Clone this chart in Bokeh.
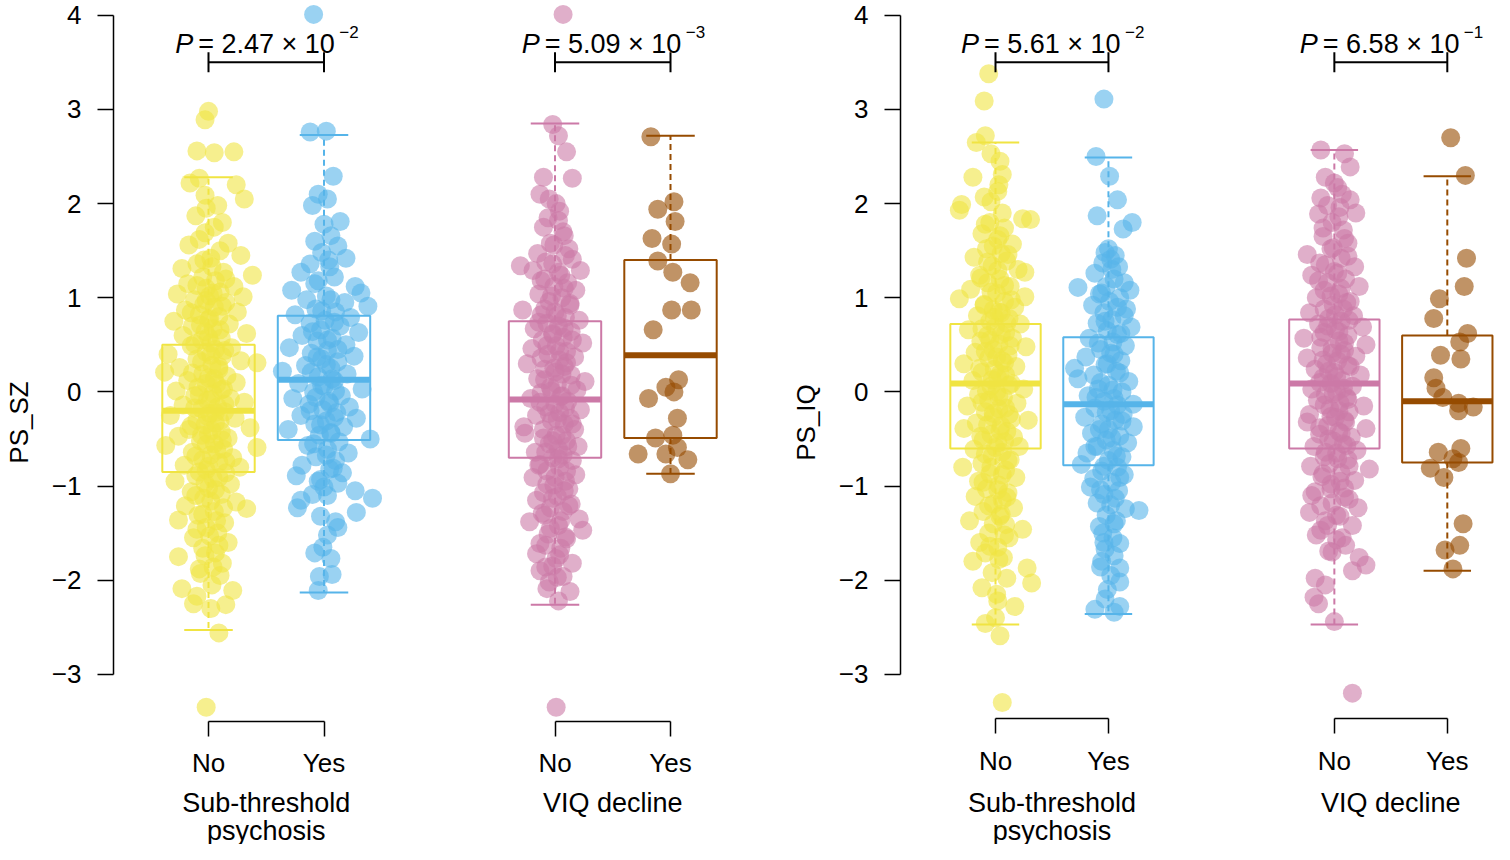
from bokeh.plotting import figure
from bokeh.layouts import row
from bokeh.models import LinearAxis, FixedTicker, Range1d, ColumnDataSource
from bokeh.core.properties import value
from bokeh.embed import file_html
from bokeh.resources import INLINE

FONT = "Liberation Sans"

# ---------------- data ----------------
positions = [1, 2, 4, 5]                       # No / Yes, No / Yes
level_labels = ["No", "Yes"]
group_labels = [["Sub-threshold", "psychosis"], ["VIQ decline"]]
colors = ["#F0E442", "#56B4E9", "#CC79A7", "#964B00"]
y_ticks = [-3, -2, -1, 0, 1, 2, 3, 4]
y_tick_labels = ["\u22123", "\u22122", "\u22121", "0", "1", "2", "3", "4"]

# ---- PS_SZ panel: points as (value, jitter) ----
sz_stp_no = [
    (2.98, 0.00), (2.89, -0.03), (2.56, -0.10), (2.54, 0.05), (2.55, 0.22), (2.27, -0.08), (2.22, -0.16),
    (2.20, 0.24), (2.05, 0.31), (2.09, -0.03), (1.98, 0.08), (1.87, -0.11), (1.80, 0.12), (1.69, -0.03),
    (1.56, -0.17), (1.58, 0.17), (1.45, 0.28), (1.42, 0.02), (1.31, -0.23), (1.36, -0.10), (1.27, 0.13),
    (1.24, 0.38), (1.22, -0.05), (1.18, 0.06), (1.15, -0.18), (1.12, 0.22), (1.10, -0.02), (1.06, 0.10),
    (1.04, -0.27), (1.02, 0.01), (1.01, 0.30), (0.98, -0.12), (0.95, 0.15), (0.93, -0.04), (0.90, 0.05),
    (0.87, -0.20), (0.85, 0.25), (0.82, -0.08), (0.80, 0.09), (0.77, 0.00), (0.75, -0.30), (0.72, 0.18),
    (0.70, -0.14), (0.67, 0.04), (0.64, -0.03), (0.62, 0.33), (0.60, -0.22), (0.57, 0.11), (0.55, -0.06),
    (0.52, 0.02), (0.49, -0.15), (0.47, 0.20), (0.45, 0.06), (0.42, -0.02), (0.40, -0.35), (0.38, 0.12),
    (0.35, -0.10), (0.33, 0.28), (0.31, 0.42), (0.28, 0.03), (0.26, -0.25), (0.24, 0.09), (0.21, -0.38),
    (0.19, -0.05), (0.17, 0.16), (0.15, 0.00), (0.12, -0.18), (0.10, 0.24), (0.08, 0.07), (0.05, -0.09),
    (0.03, 0.13), (0.01, -0.28), (-0.02, 0.04), (-0.04, -0.12), (-0.07, 0.19), (-0.09, -0.01), (-0.11, 0.31),
    (-0.14, -0.22), (-0.16, 0.08), (-0.18, -0.06), (-0.21, 0.14), (-0.23, 0.01), (-0.25, -0.33), (-0.28, 0.23),
    (-0.30, -0.10), (-0.33, 0.06), (-0.35, -0.03), (-0.38, 0.36), (-0.40, -0.17), (-0.42, 0.11), (-0.45, 0.00),
    (-0.47, -0.26), (-0.49, 0.17), (-0.52, -0.07), (-0.55, 0.05), (-0.57, -0.37), (-0.59, 0.42), (-0.61, 0.13),
    (-0.64, -0.14), (-0.67, 0.02), (-0.70, 0.21), (-0.72, -0.05), (-0.75, 0.09), (-0.78, -0.21), (-0.80, 0.27),
    (-0.83, -0.02), (-0.86, 0.15), (-0.89, -0.11), (-0.92, 0.04), (-0.95, -0.29), (-0.98, 0.19), (-1.02, 0.00),
    (-1.06, -0.15), (-1.09, 0.11), (-1.13, -0.04), (-1.17, 0.24), (-1.21, -0.20), (-1.24, 0.33), (-1.27, 0.05),
    (-1.31, -0.09), (-1.36, -0.26), (-1.39, 0.14), (-1.44, -0.02), (-1.50, 0.08), (-1.55, -0.13), (-1.60, 0.17),
    (-1.66, -0.05), (-1.71, 0.06), (-1.75, -0.26), (-1.82, 0.12), (-1.88, -0.08), (-1.93, -0.07), (-1.95, 0.10),
    (-2.05, 0.03), (-2.09, -0.23), (-2.11, 0.21), (-2.17, -0.10), (-2.25, -0.13), (-2.26, 0.15), (-2.30, 0.02),
    (-2.56, 0.09), (-3.35, -0.02),
]
sz_stp_no_core = [
    (1.95, -0.02), (1.75, 0.05), (1.62, -0.08), (1.50, 0.10), (1.40, -0.04), (1.33, 0.03), (1.20, 0.15),
    (1.13, -0.10), (1.05, 0.04), (0.97, -0.02), (0.91, 0.12), (0.84, -0.15), (0.78, 0.01), (0.71, -0.07),
    (0.66, 0.10), (0.58, 0.00), (0.51, -0.12), (0.44, 0.14), (0.39, 0.02), (0.32, -0.06), (0.27, 0.09),
    (0.20, -0.14), (0.14, 0.05), (0.09, -0.02), (0.02, 0.11), (-0.03, -0.08), (-0.08, 0.02), (-0.13, 0.14),
    (-0.17, -0.12), (-0.22, 0.06), (-0.26, -0.01), (-0.31, 0.10), (-0.36, -0.15), (-0.41, 0.03), (-0.46, -0.06),
    (-0.51, 0.12), (-0.56, -0.02), (-0.62, 0.07), (-0.68, -0.11), (-0.74, 0.15), (-0.79, 0.00), (-0.85, -0.08),
    (-0.91, 0.09), (-0.97, -0.03), (-1.04, 0.06), (-1.10, -0.11), (-1.16, 0.02), (-1.23, 0.13), (-1.30, -0.05),
    (-1.37, 0.07), (-1.46, -0.10), (-1.53, 0.01), (-1.63, 0.09), (-1.74, -0.03), (-1.86, 0.04),
]
sz_stp_yes = [
    (4.01, -0.09), (2.76, -0.12), (2.77, 0.02), (2.29, 0.08), (2.10, -0.05), (2.05, 0.03), (1.98, -0.10),
    (1.81, 0.14), (1.78, 0.00), (1.66, 0.06), (1.60, -0.08), (1.55, 0.12), (1.48, -0.02), (1.42, 0.19),
    (1.36, -0.12), (1.33, 0.05), (1.27, -0.20), (1.22, 0.09), (1.18, -0.05), (1.12, 0.27), (1.08, -0.28),
    (1.05, 0.32), (1.02, 0.02), (0.98, -0.15), (0.95, 0.18), (0.91, 0.38), (0.88, -0.07), (0.85, 0.10),
    (0.82, -0.25), (0.79, 0.23), (0.76, 0.01), (0.73, -0.12), (0.70, 0.14), (0.66, -0.03), (0.63, 0.30),
    (0.60, -0.19), (0.57, 0.07), (0.54, -0.06), (0.50, 0.19), (0.47, -0.30), (0.44, 0.03), (0.41, -0.11),
    (0.38, 0.26), (0.35, -0.02), (0.32, 0.12), (0.28, -0.16), (0.25, 0.06), (0.22, -0.36), (0.19, 0.20),
    (0.16, -0.05), (0.12, 0.09), (0.09, -0.22), (0.06, 0.00), (0.03, 0.33), (0.00, -0.09), (-0.04, 0.15),
    (-0.07, -0.27), (-0.10, 0.04), (-0.13, -0.13), (-0.16, 0.22), (-0.19, -0.01), (-0.22, 0.11), (-0.25, -0.20),
    (-0.28, 0.28), (-0.31, 0.02), (-0.34, -0.08), (-0.37, 0.17), (-0.40, -0.31), (-0.43, 0.06), (-0.46, -0.04),
    (-0.50, 0.40), (-0.53, 0.13), (-0.57, -0.14), (-0.61, 0.03), (-0.65, 0.21), (-0.69, -0.07), (-0.73, 0.10),
    (-0.78, -0.19), (-0.82, 0.05), (-0.86, 0.16), (-0.89, -0.24), (-0.93, -0.03), (-0.97, 0.12), (-1.01, 0.00),
    (-1.05, 0.27), (-1.09, -0.10), (-1.13, 0.42), (-1.15, -0.20), (-1.23, -0.23), (-1.28, 0.28), (-1.32, -0.03),
    (-1.38, 0.10), (-1.44, 0.12), (-1.52, 0.03), (-1.65, -0.01), (-1.71, -0.08), (-1.77, 0.06), (-1.94, 0.07),
    (-1.96, -0.04), (-2.11, -0.05),
]
sz_stp_yes_core = [
    (1.40, 0.04), (1.15, -0.08), (0.98, 0.06), (0.86, -0.02), (0.74, 0.09), (0.64, -0.10), (0.55, 0.03),
    (0.45, 0.12), (0.37, -0.06), (0.29, 0.02), (0.21, -0.11), (0.14, 0.07), (0.07, -0.02), (0.01, 0.10),
    (-0.06, -0.07), (-0.12, 0.05), (-0.20, -0.12), (-0.27, 0.09), (-0.35, -0.03), (-0.44, 0.06), (-0.55, -0.09),
    (-0.67, 0.02), (-0.81, 0.08), (-0.95, -0.05), (-1.10, 0.03),
]
sz_viq_no = [
    (4.01, 0.07), (2.84, -0.02), (2.72, 0.03), (2.55, 0.10), (2.27, 0.15), (2.28, -0.10), (2.10, -0.13),
    (2.05, -0.05), (1.92, 0.04), (1.82, 0.03), (1.75, -0.10), (1.66, 0.08), (1.58, -0.04), (1.52, 0.12),
    (1.47, -0.15), (1.41, 0.15), (1.36, -0.02), (1.34, -0.30), (1.29, -0.19), (1.29, 0.22), (1.24, 0.05),
    (1.20, -0.09), (1.16, 0.11), (1.12, -0.01), (1.08, 0.18), (1.04, -0.14), (1.00, 0.06), (0.96, -0.05),
    (0.92, 0.13), (0.87, -0.28), (0.85, 0.00), (0.82, -0.12), (0.79, 0.09), (0.76, 0.21), (0.73, -0.07),
    (0.70, 0.03), (0.67, -0.18), (0.64, 0.14), (0.61, -0.02), (0.58, 0.07), (0.55, -0.11), (0.52, 0.24),
    (0.49, 0.01), (0.46, -0.20), (0.43, 0.10), (0.40, -0.06), (0.37, 0.17), (0.34, 0.04), (0.30, -0.24),
    (0.27, 0.08), (0.24, -0.09), (0.21, 0.00), (0.18, 0.14), (0.14, -0.15), (0.11, 0.26), (0.08, 0.02),
    (0.05, -0.04), (0.02, 0.19), (-0.01, -0.12), (-0.04, 0.06), (-0.07, -0.21), (-0.10, 0.11), (-0.13, 0.00),
    (-0.16, -0.08), (-0.19, 0.22), (-0.22, 0.04), (-0.25, -0.16), (-0.28, 0.13), (-0.31, -0.03), (-0.34, 0.08),
    (-0.37, -0.27), (-0.40, 0.17), (-0.44, -0.26), (-0.46, 0.01), (-0.49, -0.10), (-0.52, 0.10), (-0.55, -0.05),
    (-0.58, 0.20), (-0.61, 0.03), (-0.64, -0.17), (-0.67, 0.07), (-0.70, -0.02), (-0.73, 0.15), (-0.77, -0.13),
    (-0.80, 0.04), (-0.84, -0.07), (-0.88, 0.18), (-0.91, -0.19), (-0.95, 0.09), (-0.99, -0.01), (-1.03, 0.12),
    (-1.07, -0.10), (-1.11, 0.02), (-1.15, -0.16), (-1.19, 0.14), (-1.23, -0.04), (-1.27, 0.07), (-1.31, -0.09),
    (-1.35, 0.21), (-1.38, -0.22), (-1.42, 0.03), (-1.47, 0.24), (-1.51, -0.06), (-1.56, 0.10), (-1.61, -0.13),
    (-1.66, 0.05), (-1.72, -0.16), (-1.77, 0.01), (-1.82, 0.15), (-1.86, -0.08), (-1.90, -0.13), (-1.97, 0.02),
    (-2.02, -0.05), (-2.09, -0.07), (-2.12, 0.13), (-2.22, 0.03), (-3.35, 0.01),
]
sz_viq_no_core = [
    (2.00, 0.01), (1.85, -0.06), (1.70, 0.07), (1.56, -0.01), (1.45, 0.09), (1.38, -0.08), (1.27, 0.03),
    (1.18, -0.12), (1.10, 0.08), (1.02, -0.03), (0.94, 0.13), (0.88, -0.09), (0.81, 0.02), (0.74, -0.14),
    (0.68, 0.08), (0.62, -0.02), (0.55, 0.15), (0.49, -0.07), (0.43, 0.04), (0.36, -0.12), (0.31, 0.10),
    (0.25, -0.01), (0.19, 0.06), (0.13, -0.09), (0.07, 0.14), (0.01, -0.03), (-0.05, 0.05), (-0.11, -0.13),
    (-0.17, 0.09), (-0.23, -0.05), (-0.29, 0.02), (-0.34, 0.15), (-0.40, -0.10), (-0.46, 0.06), (-0.52, -0.02),
    (-0.58, 0.11), (-0.64, -0.08), (-0.71, 0.03), (-0.78, -0.14), (-0.84, 0.10), (-0.91, 0.00), (-0.98, -0.07),
    (-1.05, 0.08), (-1.13, -0.02), (-1.21, 0.12), (-1.29, -0.11), (-1.37, 0.05), (-1.45, -0.04), (-1.54, 0.09),
    (-1.63, -0.08), (-1.73, 0.04), (-1.85, -0.02), (-1.96, 0.07),
]
sz_viq_yes = [
    (2.71, -0.17), (2.02, 0.03), (1.94, -0.11), (1.81, 0.04), (1.63, -0.16), (1.57, 0.01), (1.39, -0.11),
    (1.27, 0.02), (1.16, 0.17), (0.87, 0.01), (0.87, 0.18), (0.66, -0.15), (0.13, 0.07), (0.05, -0.04),
    (0.00, 0.03), (-0.07, -0.19), (-0.28, 0.06), (-0.49, -0.13), (-0.46, 0.02), (-0.59, 0.06), (-0.66, -0.28),
    (-0.66, -0.04), (-0.72, 0.15), (-0.87, 0.00),
]
# box statistics (whisker low, Q1, median, Q3, whisker high) per group
sz_lo = [-2.53, -2.13, -2.26, -0.87]
sz_q1 = [-0.85, -0.51, -0.70, -0.49]
sz_med = [-0.20, 0.13, -0.08, 0.39]
sz_q3 = [0.50, 0.81, 0.75, 1.40]
sz_hi = [2.28, 2.73, 2.85, 2.72]
sz_p_mantissa = ["2.47", "5.09"]
sz_p_exponent = ["\u22122", "\u22123"]

# ---- PS_IQ panel ----
iq_stp_no = [
    (3.38, -0.06), (3.09, -0.10), (2.72, -0.09), (2.65, -0.17), (2.53, -0.04), (2.45, 0.04), (2.31, 0.06),
    (2.28, -0.20), (2.13, 0.02), (2.07, -0.10), (1.99, -0.30), (1.93, -0.32), (1.84, 0.24), (1.83, 0.31),
    (1.80, -0.05), (1.74, 0.08), (1.68, -0.12), (1.62, 0.02), (1.57, 0.15), (1.52, -0.08), (1.47, 0.05),
    (1.43, -0.19), (1.39, 0.10), (1.34, -0.03), (1.30, 0.20), (1.27, 0.26), (1.24, -0.14), (1.20, 0.04),
    (1.16, -0.07), (1.12, 0.13), (1.09, -0.22), (1.05, 0.01), (1.01, 0.26), (0.99, -0.32), (0.96, 0.08),
    (0.93, -0.10), (0.90, 0.17), (0.87, -0.02), (0.84, 0.05), (0.81, -0.16), (0.78, 0.12), (0.75, -0.05),
    (0.72, 0.22), (0.69, 0.00), (0.66, -0.24), (0.63, 0.09), (0.60, -0.07), (0.57, 0.15), (0.54, -0.13),
    (0.51, 0.03), (0.48, 0.27), (0.45, -0.02), (0.42, -0.18), (0.39, 0.11), (0.36, -0.06), (0.33, 0.06),
    (0.30, -0.28), (0.27, 0.18), (0.24, -0.01), (0.21, -0.12), (0.18, 0.09), (0.15, 0.02), (0.12, -0.20),
    (0.09, 0.14), (0.06, -0.04), (0.03, 0.25), (0.00, 0.01), (-0.03, -0.15), (-0.06, 0.07), (-0.09, -0.06),
    (-0.12, 0.19), (-0.15, -0.25), (-0.18, 0.03), (-0.21, -0.09), (-0.24, 0.12), (-0.27, -0.02), (-0.30, 0.29),
    (-0.33, -0.17), (-0.36, 0.05), (-0.39, -0.28), (-0.42, 0.10), (-0.45, -0.04), (-0.48, 0.16), (-0.51, -0.11),
    (-0.54, 0.02), (-0.58, 0.21), (-0.61, -0.19), (-0.64, 0.06), (-0.68, -0.03), (-0.72, 0.13), (-0.76, -0.12),
    (-0.80, -0.29), (-0.83, 0.09), (-0.87, -0.05), (-0.91, 0.18), (-0.95, -0.15), (-0.99, 0.03), (-1.03, -0.08),
    (-1.07, 0.11), (-1.11, -0.18), (-1.15, 0.06), (-1.19, -0.02), (-1.23, 0.16), (-1.27, -0.11), (-1.32, 0.04),
    (-1.37, -0.23), (-1.41, 0.09), (-1.46, 0.24), (-1.50, -0.06), (-1.55, 0.12), (-1.60, -0.14), (-1.65, 0.02),
    (-1.71, -0.09), (-1.76, 0.07), (-1.80, -0.20), (-1.87, 0.28), (-1.92, -0.03), (-1.98, 0.10), (-2.03, 0.32),
    (-2.08, -0.12), (-2.15, 0.01), (-2.22, 0.02), (-2.28, 0.17), (-2.40, 0.00), (-2.46, -0.09), (-2.59, 0.04),
    (-3.30, 0.06),
]
iq_stp_no_core = [
    (2.20, 0.03), (2.02, -0.04), (1.90, 0.06), (1.78, -0.09), (1.66, 0.04), (1.55, -0.02), (1.46, 0.11),
    (1.38, -0.07), (1.29, 0.02), (1.21, -0.13), (1.13, 0.08), (1.06, -0.04), (0.98, 0.14), (0.92, -0.10),
    (0.85, 0.03), (0.79, -0.01), (0.73, 0.10), (0.67, -0.12), (0.61, 0.05), (0.55, -0.05), (0.49, 0.13),
    (0.43, -0.09), (0.37, 0.01), (0.31, 0.08), (0.25, -0.14), (0.19, 0.04), (0.13, -0.03), (0.07, 0.12),
    (0.01, -0.08), (-0.05, 0.03), (-0.11, -0.12), (-0.17, 0.09), (-0.23, -0.02), (-0.29, 0.14), (-0.35, -0.07),
    (-0.41, 0.04), (-0.47, -0.13), (-0.53, 0.08), (-0.59, 0.00), (-0.66, -0.09), (-0.73, 0.11), (-0.80, -0.04),
    (-0.88, 0.06), (-0.96, -0.11), (-1.04, 0.02), (-1.12, 0.10), (-1.21, -0.06), (-1.30, 0.05), (-1.40, -0.02),
    (-1.52, 0.08), (-1.64, -0.05), (-1.78, 0.03),
]
iq_stp_yes = [
    (3.11, -0.04), (2.50, -0.11), (2.29, 0.01), (2.04, 0.08), (1.87, -0.10), (1.80, 0.21), (1.73, 0.13),
    (1.52, 0.00), (1.48, -0.03), (1.45, 0.06), (1.41, 0.02), (1.37, -0.05), (1.33, 0.09), (1.26, -0.12),
    (1.20, 0.05), (1.16, 0.14), (1.12, -0.02), (1.11, -0.27), (1.08, 0.19), (1.04, -0.08), (1.00, 0.10),
    (0.96, 0.01), (0.92, -0.14), (0.88, 0.16), (0.84, -0.04), (0.81, 0.14), (0.77, 0.03), (0.73, -0.10),
    (0.69, 0.20), (0.65, -0.01), (0.61, 0.08), (0.57, -0.17), (0.53, 0.04), (0.49, 0.15), (0.45, -0.07),
    (0.41, 0.02), (0.37, -0.20), (0.33, 0.11), (0.29, -0.03), (0.25, -0.30), (0.22, 0.07), (0.18, -0.13),
    (0.14, -0.27), (0.11, 0.18), (0.07, 0.00), (0.03, -0.09), (0.00, 0.12), (-0.04, -0.18), (-0.07, 0.05),
    (-0.10, -0.04), (-0.13, 0.22), (-0.17, -0.12), (-0.20, 0.02), (-0.24, 0.13), (-0.27, -0.21), (-0.30, 0.06),
    (-0.34, -0.06), (-0.37, 0.22), (-0.40, 0.00), (-0.44, -0.15), (-0.47, 0.10), (-0.51, -0.02), (-0.54, 0.17),
    (-0.58, -0.10), (-0.62, 0.04), (-0.65, -0.19), (-0.69, 0.12), (-0.73, 0.00), (-0.77, -0.24), (-0.80, 0.08),
    (-0.84, -0.06), (-0.88, 0.14), (-0.92, -0.13), (-0.96, 0.03), (-1.01, -0.16), (-1.05, 0.09), (-1.09, -0.04),
    (-1.13, 0.06), (-1.18, -0.10), (-1.24, 0.15), (-1.26, 0.27), (-1.31, -0.02), (-1.37, 0.07), (-1.43, -0.08),
    (-1.50, -0.05), (-1.55, 0.04), (-1.61, 0.10), (-1.67, -0.03), (-1.74, 0.05), (-1.80, -0.06), (-1.86, -0.07),
    (-1.87, 0.10), (-1.95, 0.02), (-2.02, 0.10), (-2.10, -0.01), (-2.20, -0.03), (-2.28, 0.10), (-2.31, -0.12),
    (-2.34, 0.05),
]
iq_stp_yes_core = [
    (1.30, 0.03), (1.05, -0.06), (0.90, 0.08), (0.75, -0.03), (0.62, 0.11), (0.52, -0.09), (0.40, 0.05),
    (0.30, -0.01), (0.20, 0.10), (0.10, -0.07), (0.02, 0.04), (-0.06, -0.11), (-0.14, 0.08), (-0.22, -0.02),
    (-0.31, 0.12), (-0.40, -0.08), (-0.49, 0.03), (-0.58, -0.12), (-0.68, 0.07), (-0.79, -0.04), (-0.91, 0.10),
    (-1.04, -0.07), (-1.20, 0.02), (-1.40, 0.05), (-1.60, -0.04),
]
iq_viq_no = [
    (2.57, -0.12), (2.53, 0.09), (2.39, 0.14), (2.28, -0.08), (2.17, 0.03), (2.06, -0.12), (2.04, 0.14),
    (1.96, 0.05), (1.90, 0.19), (1.89, -0.14), (1.80, -0.02), (1.72, 0.08), (1.65, -0.10), (1.58, 0.12),
    (1.52, -0.03), (1.46, -0.24), (1.42, 0.06), (1.37, -0.13), (1.33, 0.18), (1.28, 0.00), (1.24, -0.20),
    (1.20, 0.10), (1.16, -0.06), (1.12, 0.22), (1.08, -0.09), (1.04, 0.04), (1.00, -0.16), (0.96, 0.14),
    (0.92, -0.01), (0.88, 0.08), (0.84, -0.22), (0.81, 0.17), (0.78, -0.05), (0.75, 0.06), (0.72, -0.14),
    (0.69, 0.25), (0.66, 0.01), (0.63, -0.09), (0.60, 0.12), (0.57, -0.27), (0.54, 0.04), (0.50, 0.28),
    (0.47, -0.12), (0.44, 0.09), (0.41, -0.02), (0.38, 0.19), (0.36, -0.24), (0.33, 0.03), (0.30, -0.07),
    (0.27, 0.14), (0.24, -0.17), (0.21, 0.00), (0.18, 0.23), (0.15, -0.10), (0.12, 0.07), (0.09, -0.03),
    (0.06, 0.16), (0.03, -0.20), (0.00, 0.02), (-0.03, -0.08), (-0.06, 0.11), (-0.09, -0.15), (-0.12, 0.05),
    (-0.15, 0.26), (-0.18, -0.04), (-0.21, 0.13), (-0.24, -0.22), (-0.27, 0.01), (-0.30, 0.09), (-0.32, -0.24),
    (-0.36, -0.06), (-0.39, 0.28), (-0.42, 0.04), (-0.45, -0.13), (-0.48, 0.15), (-0.52, -0.01), (-0.55, 0.08),
    (-0.58, -0.18), (-0.62, 0.20), (-0.65, 0.02), (-0.69, -0.09), (-0.72, 0.12), (-0.76, -0.04), (-0.79, -0.21),
    (-0.82, 0.31), (-0.86, 0.06), (-0.90, -0.11), (-0.94, 0.18), (-0.98, -0.03), (-1.02, 0.09), (-1.06, -0.17),
    (-1.10, -0.20), (-1.14, 0.13), (-1.18, -0.02), (-1.23, 0.21), (-1.28, -0.22), (-1.32, 0.05), (-1.37, -0.08),
    (-1.42, 0.16), (-1.47, -0.12), (-1.52, -0.16), (-1.57, 0.02), (-1.63, 0.10), (-1.69, -0.05), (-1.76, 0.22),
    (-1.84, 0.28), (-1.90, 0.16), (-1.98, -0.17), (-2.05, -0.08), (-2.18, -0.18), (-2.25, -0.14), (-2.44, 0.00),
    (-3.20, 0.16),
]
iq_viq_no_core = [
    (2.22, 0.00), (2.10, 0.07), (1.98, -0.06), (1.86, 0.04), (1.74, -0.10), (1.63, 0.09), (1.53, -0.01),
    (1.44, 0.12), (1.35, -0.08), (1.26, 0.03), (1.18, -0.14), (1.10, 0.06), (1.02, -0.03), (0.95, 0.11),
    (0.88, -0.09), (0.82, 0.01), (0.76, 0.13), (0.70, -0.06), (0.64, 0.04), (0.58, -0.12), (0.52, 0.09),
    (0.46, -0.02), (0.40, 0.06), (0.34, -0.10), (0.28, 0.12), (0.22, -0.05), (0.16, 0.02), (0.10, -0.13),
    (0.04, 0.08), (-0.02, -0.01), (-0.08, 0.12), (-0.14, -0.09), (-0.20, 0.04), (-0.26, -0.03), (-0.32, 0.10),
    (-0.38, -0.13), (-0.44, 0.06), (-0.50, -0.05), (-0.57, 0.11), (-0.64, -0.08), (-0.71, 0.03), (-0.79, 0.13),
    (-0.87, -0.10), (-0.95, 0.05), (-1.03, -0.03), (-1.12, 0.09), (-1.21, -0.12), (-1.31, 0.02), (-1.42, -0.06),
    (-1.55, 0.07), (-1.70, -0.02),
]
iq_viq_yes = [
    (2.70, 0.03), (2.30, 0.16), (1.42, 0.17), (1.12, 0.15), (0.99, -0.07), (0.78, -0.12), (0.62, 0.18),
    (0.53, 0.11), (0.39, -0.06), (0.35, 0.12), (0.15, -0.12), (0.04, -0.10), (-0.06, -0.04), (-0.12, 0.10),
    (-0.16, 0.23), (-0.20, 0.10), (-0.64, -0.08), (-0.60, 0.12), (-0.71, 0.05), (-0.75, 0.10), (-0.81, -0.15),
    (-0.91, -0.03), (-1.40, 0.14), (-1.63, 0.11), (-1.68, -0.02), (-1.88, 0.05),
]
iq_lo = [-2.47, -2.36, -2.47, -1.90]
iq_q1 = [-0.60, -0.78, -0.60, -0.75]
iq_med = [0.09, -0.13, 0.09, -0.10]
iq_q3 = [0.72, 0.58, 0.77, 0.60]
iq_hi = [2.65, 2.49, 2.57, 2.29]
iq_p_mantissa = ["5.61", "6.58"]
iq_p_exponent = ["\u22122", "\u22121"]

# ---------------- layout constants ----------------
PX_PER_Y = 94.14
ZERO_PX = 391.4
HEIGHT = 844
Y_TOP = ZERO_PX / PX_PER_Y
Y_BOTTOM = (ZERO_PX - HEIGHT) / PX_PER_Y
FS = "26px"
FS_BIG = "27px"


def ypx(px):
    """picture pixel row -> data y (annotation placement only)"""
    return (ZERO_PX - px) / PX_PER_Y


def make_panel(ylabel, point_sets, lo, q1, med, q3, hi, p_mant, p_exp, width, unit, bracket_px):
    border = 113
    frame_w = width - border
    x_left = 1 - 95.0 / unit
    x_right = x_left + frame_w / unit
    p = figure(width=width, height=HEIGHT, x_range=Range1d(x_left, x_right),
               y_range=Range1d(Y_BOTTOM, Y_TOP), output_backend="svg", toolbar_location=None,
               x_axis_location=None, y_axis_location=None,
               min_border_left=border, min_border_right=0, min_border_top=0, min_border_bottom=0)
    p.outline_line_color = None
    p.grid.visible = False
    p.background_fill_color = "white"

    # jittered points
    for pos, pts, col in zip(positions, point_sets, colors):
        xs = [pos + j for v, j in pts]
        ys = [v for v, j in pts]
        p.scatter(xs, ys, size=19, marker="circle", fill_color=col, fill_alpha=0.6, line_color=None)

    # boxplots
    half_box, half_cap = 0.40, 0.21
    src = ColumnDataSource(dict(
        x=positions, lo=lo, q1=q1, med=med, q3=q3, hi=hi, color=colors,
        left=[x - half_box for x in positions], right=[x + half_box for x in positions],
        cl=[x - half_cap for x in positions], cr=[x + half_cap for x in positions]))
    p.segment(x0="x", x1="x", y0="q3", y1="hi", line_color="color", line_width=2, line_dash="6 4", source=src)
    p.segment(x0="x", x1="x", y0="q1", y1="lo", line_color="color", line_width=2, line_dash="6 4", source=src)
    p.segment(x0="cl", x1="cr", y0="hi", y1="hi", line_color="color", line_width=2, source=src)
    p.segment(x0="cl", x1="cr", y0="lo", y1="lo", line_color="color", line_width=2, source=src)
    p.quad(left="left", right="right", bottom="q1", top="q3", fill_alpha=0, line_color="color",
           line_width=2, source=src)
    p.segment(x0="left", x1="right", y0="med", y1="med", line_color="color", line_width=6, source=src)

    # y axis (R style, line only between -3 and 4)
    yax = LinearAxis(bounds=(-3, 4), ticker=FixedTicker(ticks=y_ticks),
                     major_label_overrides=dict(zip(y_ticks, y_tick_labels)),
                     axis_label=ylabel, axis_label_text_font=FONT, axis_label_text_font_size=FS,
                     axis_label_text_font_style="normal", axis_label_text_color="black",
                     axis_label_standoff=15,
                     major_label_text_font=FONT, major_label_text_font_size=FS,
                     major_label_text_color="black",
                     major_label_standoff=16, major_tick_out=16, major_tick_in=0,
                     minor_tick_out=0, minor_tick_in=0, axis_line_width=1.5,
                     major_tick_line_width=1.5)
    p.add_layout(yax, "left")

    # x axes: one bracket per comparison
    pairs = [(positions[0], positions[1]), (positions[2], positions[3])]
    for a, b in pairs:
        xax = LinearAxis(fixed_location=ypx(bracket_px), bounds=(a, b), ticker=FixedTicker(ticks=[a, b]),
                         major_label_overrides={a: level_labels[0], b: level_labels[1]},
                         major_label_text_font=FONT, major_label_text_font_size=FS,
                         major_label_text_color="black",
                         major_label_standoff=12, major_tick_out=15, major_tick_in=0,
                         minor_tick_out=0, minor_tick_in=0, axis_line_width=1.5,
                         major_tick_line_width=1.5)
        p.add_layout(xax, "below")

    # group labels
    centers = [(a + b) / 2 for a, b in pairs]
    gx, gy, gt = [], [], []
    for c, lines in zip(centers, group_labels):
        for k, line in enumerate(lines):
            gx.append(c)
            gy.append(ypx(802 + 28 * k))
            gt.append(line)
    p.text(x=gx, y=gy, text=gt, text_font=value(FONT), text_font_size=FS_BIG,
           text_align="center", text_baseline="middle", text_color="black")

    # significance brackets and P values
    yb = ypx(61.7)
    tick = 10 / PX_PER_Y
    p.segment(x0=[a for a, b in pairs], x1=[b for a, b in pairs], y0=[yb, yb], y1=[yb, yb],
              line_color="black", line_width=2)
    ends = [a for a, b in pairs] + [b for a, b in pairs]
    p.segment(x0=ends, x1=ends, y0=[yb - tick] * 4, y1=[yb + tick] * 4, line_color="black", line_width=2)

    p.text(x=centers, y=[ypx(43.5)] * 2, text=["P", "P"], text_font=value(FONT), text_font_size=FS_BIG,
           text_font_style="italic", text_align="left", text_baseline="alphabetic", x_offset=-91)
    p.text(x=centers, y=[ypx(43.5)] * 2, text=["= %s \u00d7 10" % m for m in p_mant],
           text_font=value(FONT), text_font_size=FS_BIG, text_align="left", text_baseline="alphabetic",
           x_offset=-68)
    p.text(x=centers, y=[ypx(31)] * 2, text=p_exp, text_font=value(FONT), text_font_size="17px",
           text_align="left", text_baseline="alphabetic", x_offset=73)
    return p


p1 = make_panel("PS_SZ", [sz_stp_no + sz_stp_no_core, sz_stp_yes + sz_stp_yes_core,
                          sz_viq_no + sz_viq_no_core, sz_viq_yes],
                sz_lo, sz_q1, sz_med, sz_q3, sz_hi, sz_p_mantissa, sz_p_exponent,
                width=787, unit=115.5, bracket_px=720.7)
p2 = make_panel("PS_IQ", [iq_stp_no + iq_stp_no_core, iq_stp_yes + iq_stp_yes_core,
                          iq_viq_no + iq_viq_no_core, iq_viq_yes],
                iq_lo, iq_q1, iq_med, iq_q3, iq_hi, iq_p_mantissa, iq_p_exponent,
                width=707, unit=112.95, bracket_px=718)

layout = row(p1, p2)
open("out.html", "w").write(file_html(layout, INLINE))
